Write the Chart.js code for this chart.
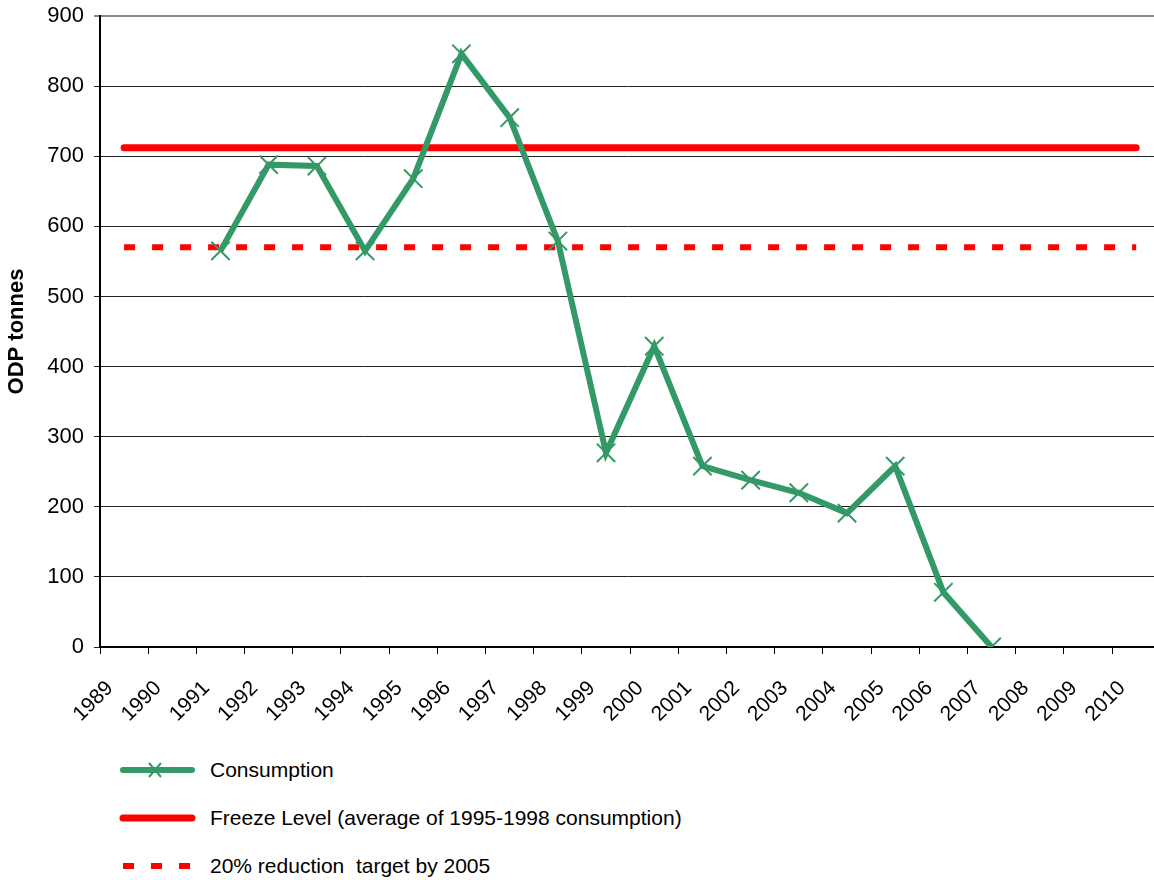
<!DOCTYPE html>
<html>
<head>
<meta charset="utf-8">
<script src="https://cdn.jsdelivr.net/npm/chart.js@4.4.1/dist/chart.umd.min.js"></script>
<style>
  body { margin: 0; background: #fff; font-family: "Liberation Sans", Arial, sans-serif; }
  #wrap { position: relative; width: 1154px; height: 880px; }
  #legend { position: absolute; left: 118px; top: 752px; font-size: 21px; color: #000; }
  .item { position: absolute; left: 0; height: 36px; width: 800px; display: flex; align-items: center; }
  .item svg { margin-right: 14px; }
</style>
</head>
<body>
<div id="wrap">
  <canvas id="odpChart" width="1154" height="740"></canvas>
  <div id="legend"></div>
</div>
<script>
const years = [1989, 1990, 1991, 1992, 1993, 1994, 1995, 1996, 1997, 1998, 1999,
  2000, 2001, 2002, 2003, 2004, 2005, 2006, 2007, 2008, 2009, 2010];
const consumption = [null, null, 565, 688, 686, 565, 668, 846, 755, 579, 277,
  429, 258, 238, 220, 191, 258, 78, 0, null, null, null];
const freezeLevel = 712;
const reductionTarget = 570;
const yTicks = [0, 100, 200, 300, 400, 500, 600, 700, 800, 900];

const green = "#339966";
const red = "#ff0000";

// points sit between the tick marks, like the original category axis
const consumptionPoints = years
  .map((yr, i) => ({ x: yr + 0.5, y: consumption[i] }))
  .filter((p) => p.y !== null);
const firstYear = years[0] + 0.5;
const lastYear = years[years.length - 1] + 0.5;

const ctx = document.getElementById("odpChart").getContext("2d");
new Chart(ctx, {
  type: "line",
  data: {
    datasets: [
      {
        label: "Consumption",
        data: consumptionPoints,
        borderColor: green,
        backgroundColor: green,
        borderWidth: 6,
        pointStyle: "crossRot",
        pointRadius: 13,
        pointBorderWidth: 2,
        pointBorderColor: green,
        borderJoinStyle: "miter",
        order: 1,
      },
      {
        label: "Freeze Level (average of 1995-1998 consumption)",
        data: [{ x: firstYear, y: freezeLevel }, { x: lastYear, y: freezeLevel }],
        borderColor: red,
        borderWidth: 7,
        borderCapStyle: "round",
        pointRadius: 0,
        order: 2,
      },
      {
        label: "20% reduction  target by 2005",
        data: [{ x: firstYear, y: reductionTarget }, { x: lastYear, y: reductionTarget }],
        borderColor: red,
        borderWidth: 6,
        borderDash: [11, 17],
        pointRadius: 0,
        order: 3,
      },
    ],
  },
  options: {
    responsive: false,
    animation: false,
    layout: { autoPadding: false, padding: { top: 16, right: 0, bottom: 0, left: 0 } },
    scales: {
      x: {
        type: "linear",
        min: years[0],
        max: 2010.87,
        afterBuildTicks: (scale) => {
          scale.ticks = years.map((v) => ({ value: v }));
        },
        afterFit: (scale) => {
          scale.height = 93;
          scale.paddingRight = 0;
        },
        ticks: {
          stepSize: 1,
          autoSkip: false,
          maxRotation: 45,
          minRotation: 45,
          padding: 22,
          labelOffset: 10,
          color: "#000",
          font: { family: "Liberation Sans", size: 21 },
          callback: (v) => String(v),
        },
        grid: { drawOnChartArea: false, tickLength: 7, color: "#000" },
        border: { color: "#000", width: 2 },
      },
      y: {
        min: 0,
        max: 900,
        afterBuildTicks: (scale) => {
          scale.ticks = yTicks.map((v) => ({ value: v }));
        },
        afterFit: (scale) => {
          scale.width = 100;
          scale.paddingTop = 0;
        },
        ticks: {
          color: "#000",
          padding: 10,
          font: { family: "Liberation Sans", size: 22 },
        },
        grid: {
          color: (c) => (c.tick && c.tick.value === 900 ? "#888" : "#222"),
          lineWidth: (c) => (c.tick && c.tick.value === 900 ? 2 : 1),
          tickLength: 6,
        },
        border: { color: "#000", width: 2 },
        title: {
          display: true,
          text: "ODP tonnes",
          color: "#000",
          font: { family: "Liberation Sans", size: 22, weight: "bold" },
          padding: { top: 4, bottom: 0 },
        },
      },
    },
    plugins: {
      legend: { display: false },
      tooltip: { enabled: false },
    },
  },
});

// legend below the chart, one entry per row
const legendItems = [
  { text: "Consumption", color: green, width: 6, dash: "", marker: true },
  { text: "Freeze Level (average of 1995-1998 consumption)", color: red, width: 7, dash: "", marker: false },
  { text: "20% reduction  target by 2005", color: red, width: 6, dash: "11 17", marker: false },
];
const legend = document.getElementById("legend");
legendItems.forEach((item, i) => {
  const row = document.createElement("div");
  row.className = "item";
  row.style.top = i * 48 + "px";
  const cap = item.dash ? "butt" : "round";
  const marker = item.marker
    ? '<path d="M31 11 L43 25 M43 11 L31 25" stroke="' + item.color + '" stroke-width="2"/>'
    : "";
  row.innerHTML =
    '<svg width="78" height="36" viewBox="0 0 78 36">' +
    '<line x1="5" y1="18" x2="74" y2="18" stroke="' + item.color + '" stroke-width="' + item.width +
    '" stroke-linecap="' + cap + '"' + (item.dash ? ' stroke-dasharray="' + item.dash + '"' : "") + "/>" +
    marker + "</svg><span style=\"white-space:pre\">" + item.text + "</span>";
  legend.appendChild(row);
});
</script>
</body>
</html>
